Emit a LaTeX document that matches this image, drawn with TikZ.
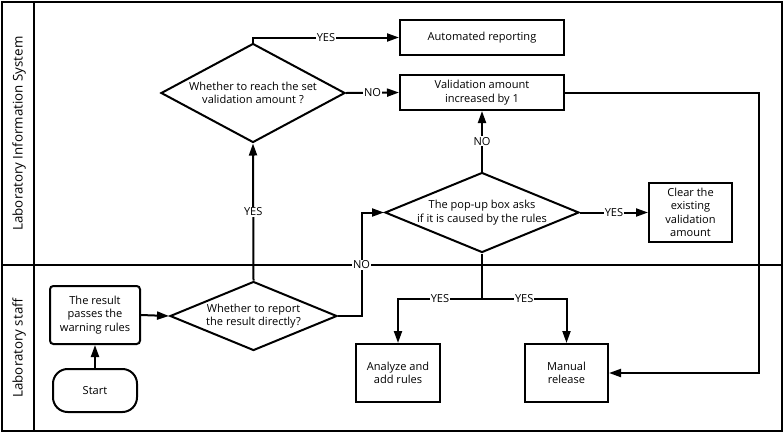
\documentclass[tikz,border=0pt]{standalone}
\usepackage{fontspec}
\setmainfont{Open Sans}
\usetikzlibrary{shapes.geometric,arrows.meta}
\def\px{0.75pt}
\tikzset{
  line/.style={line width=1.5pt},
  arr/.style={line width=1.5pt,-{Triangle[length=9pt,width=6pt]}},
  boxn/.style={draw,line width=1.5pt,align=center,inner sep=0pt,font=\fontsize{8.3}{10}\selectfont},
  dia/.style={draw,diamond,line width=1.5pt,align=center,inner sep=0pt,font=\fontsize{8.3}{10}\selectfont},
  lab/.style={fill=white,inner sep=0.6pt,font=\fontsize{8.3}{10}\selectfont},
  lane/.style={rotate=90,font=\fontsize{10}{12}\selectfont}
}
\begin{document}
\begin{tikzpicture}[x=0.75pt,y=-0.75pt]
\useasboundingbox (0,0) rectangle (784,433);
% lanes
\draw[line] (2,2) rectangle (782,431);
\draw[line] (34,2) -- (34,431);
\draw[line] (2,265) -- (782,265);
\node[lane] (l1) at (19,133.5) {Laboratory Information System};
\node[lane] (l2) at (19,348) {Laboratory staff};
% nodes
\node[dia,minimum width=184*\px,minimum height=99*\px,aspect=1.86] (d1) at (253,93) {Whether to reach the set\\validation amount ?};
\node[boxn,minimum width=164*\px,minimum height=35*\px] (auto) at (482,37.5) {Automated reporting};
\node[boxn,minimum width=164*\px,minimum height=35*\px] (val) at (482,92.5) {Validation amount\\increased by 1};
\node[dia,minimum width=194*\px,minimum height=80*\px,aspect=2.43] (d2) at (482,212.5) {The pop-up box asks\\if it is caused by the rules};
\node[boxn,minimum width=83*\px,minimum height=59*\px] (clear) at (690.5,212.5) {Clear the\\existing\\validation\\amount};
\node[dia,minimum width=167*\px,minimum height=69*\px,aspect=2.42] (d3) at (253.5,316) {Whether to report\\the result directly?};
\node[boxn,rounded corners=2.5pt,minimum width=90*\px,minimum height=58*\px] (res) at (95,315) {The result\\passes the\\warning rules};
\node[boxn,rounded corners=11pt,minimum width=84*\px,minimum height=43*\px] (start) at (95,390.5) {Start};
\node[boxn,minimum width=84*\px,minimum height=58*\px] (ana) at (398,373) {Analyze and\\add rules};
\node[boxn,minimum width=83*\px,minimum height=58*\px] (man) at (566.5,373) {Manual\\release};
\coordinate (c1) at (759,373);
\coordinate (nox) at (361.5,265);
\coordinate (br) at (482,299);
% connectors
\draw[arr] (start.north) -- (res.south);
\draw[arr] (res.east) -- (d3.west);
\draw[arr] (d3.north) -- node[lab]{YES} (d1.south);
\draw[arr] (d1.north) |- node[lab,pos=0.75]{YES} (auto.west);
\draw[arr] (d1.east) -- node[lab]{NO} (val.west);
\draw[arr] (d2.north) -- node[lab]{NO} (val.south);
\draw[arr] (d2.east) -- node[lab]{YES} (clear.west);
\draw[arr] (d3.east) -| (nox) |- (d2.west);
\node[lab] (nol) at (nox) {NO};
\draw[arr] (val.east) -| (c1) -- (man.east);
\draw[line] (d2.south) -- (br);
\draw[arr] (br) -| node[lab,pos=0.25]{YES} (ana.north);
\draw[arr] (br) -| node[lab,pos=0.25]{YES} (man.north);
\end{tikzpicture}
\end{document}
